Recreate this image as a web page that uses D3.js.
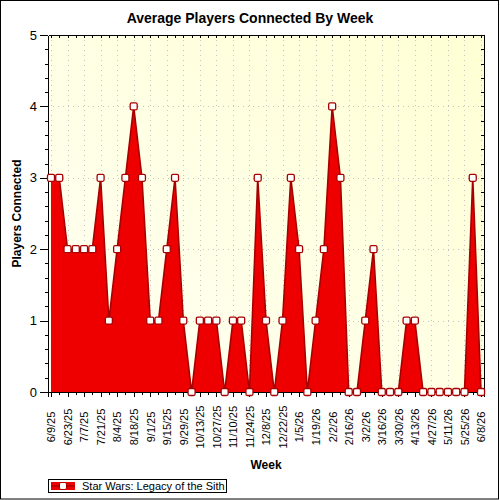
<!DOCTYPE html>
<html>
<head>
<meta charset="utf-8">
<script src="https://cdn.jsdelivr.net/npm/d3@7"></script>
<style>
  body { margin: 0; background: #fff; }
  text { font-family: "Liberation Sans", Arial, sans-serif; }
  .axis path, .axis line { stroke: #000; shape-rendering: crispEdges; }
  .axis text { fill: #000; }
</style>
</head>
<body>
<div id="chart"></div>
<script>
// Weekly data, 6/9/25 .. 6/8/26
const weeks = ["6/9/25","6/16/25","6/23/25","6/30/25","7/7/25","7/14/25","7/21/25","7/28/25",
  "8/4/25","8/11/25","8/18/25","8/25/25","9/1/25","9/8/25","9/15/25","9/22/25","9/29/25",
  "10/6/25","10/13/25","10/20/25","10/27/25","11/3/25","11/10/25","11/17/25","11/24/25",
  "12/1/25","12/8/25","12/15/25","12/22/25","12/29/25","1/5/26","1/12/26","1/19/26","1/26/26",
  "2/2/26","2/9/26","2/16/26","2/23/26","3/2/26","3/9/26","3/16/26","3/23/26","3/30/26",
  "4/6/26","4/13/26","4/20/26","4/27/26","5/4/26","5/11/26","5/18/26","5/25/26","6/1/26","6/8/26"];
const players = [3,3,2,2,2,2,3,1,2,3,4,3,1,1,2,3,1,0,1,1,1,0,1,1,0,3,1,0,1,3,2,0,1,2,4,3,0,0,1,2,
  0,0,0,1,1,0,0,0,0,0,0,3,0];
const yTicks = [0, 1, 2, 3, 4, 5];
const seriesName = "Star Wars: Legacy of the Sith";

const W = 500, H = 500;
const plot = { left: 48, right: 484, top: 35, bottom: 392 };
const fillColor = "#ee0000";
const edgeColor = "#a80000";

const svg = d3.select("#chart").append("svg")
    .attr("width", W)
    .attr("height", H);

// Background gradient for plot area
const grad = svg.append("defs").append("linearGradient")
    .attr("id", "bg")
    .attr("x1", "0%").attr("y1", "100%")
    .attr("x2", "100%").attr("y2", "0%");
grad.append("stop").attr("offset", "0%").attr("stop-color", "#fffff4");
grad.append("stop").attr("offset", "100%").attr("stop-color", "#ffffd4");

svg.append("rect")
    .attr("x", plot.left).attr("y", plot.top)
    .attr("width", plot.right - plot.left)
    .attr("height", plot.bottom - plot.top)
    .attr("fill", "url(#bg)");

// Scales
const x = d3.scalePoint()
    .domain(weeks)
    .range([plot.left, plot.right])
    .padding(0.36);

const y = d3.scaleLinear()
    .domain([0, 5])
    .range([plot.bottom, plot.top]);

const majorWeeks = weeks.filter((d, i) => i % 2 === 0);
const minorWeeks = weeks.filter((d, i) => i % 2 === 1);
const minorY = d3.range(0, 5.001, 0.2).map(v => +v.toFixed(1));

// Dotted grid
svg.append("g").selectAll("line")
    .data(majorWeeks)
    .join("line")
    .attr("x1", d => Math.round(x(d)) + 0.5).attr("x2", d => Math.round(x(d)) + 0.5)
    .attr("y1", plot.top).attr("y2", plot.bottom)
    .attr("stroke", "#c4c4c4")
    .attr("stroke-dasharray", "1,4");

svg.append("g").selectAll("line")
    .data(yTicks.slice(1, -1))
    .join("line")
    .attr("x1", plot.left).attr("x2", plot.right)
    .attr("y1", d => Math.round(y(d)) + 0.5).attr("y2", d => Math.round(y(d)) + 0.5)
    .attr("stroke", "#c4c4c4")
    .attr("stroke-dasharray", "1,4");

// Area + edge line
const area = d3.area()
    .x((d, i) => x(weeks[i]))
    .y0(y(0))
    .y1(d => y(d));

const line = d3.line()
    .x((d, i) => x(weeks[i]))
    .y(d => y(d));

svg.append("path")
    .datum(players)
    .attr("d", area)
    .attr("fill", fillColor);

svg.append("path")
    .datum(players)
    .attr("d", line)
    .attr("fill", "none")
    .attr("stroke", edgeColor)
    .attr("stroke-width", 1.6);

// Axes
svg.append("g")
    .attr("class", "axis")
    .attr("transform", `translate(0, ${plot.bottom})`)
    .call(d3.axisBottom(x).tickValues(minorWeeks).tickSize(3).tickFormat(""))
    .call(g => g.select(".domain").remove());

const xAxis = svg.append("g")
    .attr("class", "axis")
    .attr("transform", `translate(0, ${plot.bottom})`)
    .call(d3.axisBottom(x).tickValues(majorWeeks).tickSizeOuter(0).tickSize(5));

xAxis.selectAll(".tick text")
    .attr("transform", "translate(0, 35) rotate(-90)")
    .attr("y", 0)
    .attr("dy", "0.35em")
    .attr("text-anchor", "middle")
    .style("font-size", "11px");

svg.append("g")
    .attr("class", "axis")
    .attr("transform", `translate(0, ${plot.top})`)
    .call(d3.axisTop(x).tickValues(weeks).tickSize(-3).tickSizeOuter(0).tickFormat(""));

svg.append("g")
    .attr("class", "axis")
    .attr("transform", `translate(${plot.left}, 0)`)
    .call(d3.axisLeft(y).tickValues(minorY).tickSize(3).tickFormat(""))
    .call(g => g.select(".domain").remove());

svg.append("g")
    .attr("class", "axis")
    .attr("transform", `translate(${plot.left}, 0)`)
    .call(d3.axisLeft(y).tickValues(yTicks).tickSize(8).tickSizeOuter(0).tickPadding(3)
        .tickFormat(d3.format("d")))
    .selectAll(".tick text")
    .style("font-size", "13px");

svg.append("g")
    .attr("class", "axis")
    .attr("transform", `translate(${plot.right}, 0)`)
    .call(d3.axisRight(y).tickValues(minorY).tickSize(-3).tickSizeOuter(0).tickFormat(""));

// Markers
svg.append("g").selectAll("rect")
    .data(players)
    .join("rect")
    .attr("x", (d, i) => x(weeks[i]) - 3.5)
    .attr("y", d => y(d) - 3.5)
    .attr("width", 7)
    .attr("height", 7)
    .attr("rx", 1.5)
    .attr("fill", "#fff")
    .attr("stroke", edgeColor)
    .attr("stroke-width", 1.3);

// Title and axis labels
svg.append("text")
    .attr("x", W / 2)
    .attr("y", 23)
    .attr("text-anchor", "middle")
    .style("font-size", "14px")
    .style("font-weight", "bold")
    .text("Average Players Connected By Week");

svg.append("text")
    .attr("x", (plot.left + plot.right) / 2)
    .attr("y", 469)
    .attr("text-anchor", "middle")
    .style("font-size", "12px")
    .style("font-weight", "bold")
    .text("Week");

svg.append("text")
    .attr("transform", `translate(21, ${(plot.top + plot.bottom) / 2}) rotate(-90)`)
    .attr("text-anchor", "middle")
    .style("font-size", "12px")
    .style("font-weight", "bold")
    .text("Players Connected");

// Legend
const legend = svg.append("g");
legend.append("rect")
    .attr("x", 48.5).attr("y", 479.5)
    .attr("width", 178).attr("height", 13)
    .attr("fill", "#fff")
    .attr("stroke", "#000");
legend.append("rect")
    .attr("x", 51).attr("y", 482)
    .attr("width", 24).attr("height", 8)
    .attr("fill", fillColor);
legend.append("line")
    .attr("x1", 51).attr("x2", 75)
    .attr("y1", 486).attr("y2", 486)
    .attr("stroke", edgeColor)
    .attr("stroke-width", 1.5);
legend.append("rect")
    .attr("x", 59.5).attr("y", 482.5)
    .attr("width", 7).attr("height", 7)
    .attr("rx", 1.5)
    .attr("fill", "#fff")
    .attr("stroke", edgeColor);
legend.append("text")
    .attr("x", 82)
    .attr("y", 490)
    .style("font-size", "11px")
    .text(seriesName);

// Outer border
svg.append("rect")
    .attr("x", 0.5).attr("y", 0.5)
    .attr("width", 498).attr("height", 498.5)
    .attr("fill", "none")
    .attr("stroke", "#000");
</script>
</body>
</html>
